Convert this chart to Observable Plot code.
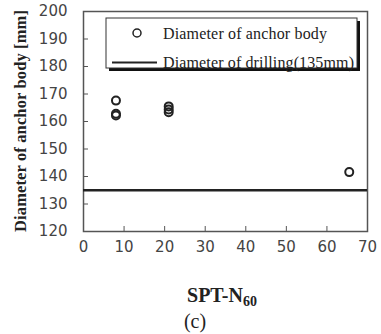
<!DOCTYPE html>
<html>
<head>
<meta charset="utf-8">
<script src="https://cdn.jsdelivr.net/npm/d3@7"></script>
<script src="https://cdn.jsdelivr.net/npm/@observablehq/plot@0.6"></script>
<style>
  html, body { margin: 0; padding: 0; background: #fff; }
</style>
</head>
<body>
<div id="chart"></div>
<script>
// Data
const sptN60 = [8, 8, 8, 21, 21, 21, 65.5];
const anchorDiameter = [167.6, 162.8, 162.2, 165.5, 164.4, 163.4, 141.6];
const drillingDiameter = 135;
const xTicks = [0, 10, 20, 30, 40, 50, 60, 70];
const yTicks = [120, 130, 140, 150, 160, 170, 180, 190, 200];
const legendLabels = ["Diameter of anchor body", "Diameter of drilling(135mm)"];
const yTitle = "Diameter of anchor body [mm]";
const xTitleMain = "SPT-N";
const xTitleSub = "60";
const caption = "(c)";

const points = sptN60.map((x, i) => ({x, y: anchorDiameter[i]}));

const chart = Plot.plot({
  width: 381,
  height: 334,
  marginLeft: 83,
  marginRight: 14,
  marginTop: 11,
  marginBottom: 103,
  style: {background: "#fff", fontFamily: "'DejaVu Sans', sans-serif", fontSize: "14px", color: "#333"},
  x: {domain: [0, 70], ticks: xTicks},
  y: {domain: [120, 200], ticks: yTicks},
  marks: [
    Plot.frame({stroke: "#555", strokeWidth: 1.5}),
    // inward tick marks
    Plot.axisX({ticks: xTicks, tickSize: 5, dy: -5, tickFormat: () => "", label: null, stroke: "#555"}),
    Plot.axisY({ticks: yTicks, tickSize: 5, dx: 5, tickFormat: () => "", label: null, stroke: "#555"}),
    // tick labels
    Plot.axisX({ticks: xTicks, tickSize: 0, tickPadding: 10, label: null, fill: "#444", fontSize: 15}),
    Plot.axisY({ticks: yTicks, tickSize: 0, tickPadding: 16, label: null, fill: "#444", fontSize: 15}),
    Plot.ruleY([drillingDiameter], {stroke: "#222", strokeWidth: 2.5}),
    Plot.dot(points, {x: "x", y: "y", r: 4, stroke: "#222", strokeWidth: 2, fill: "none"})
  ]
});

document.getElementById("chart").appendChild(chart);

// Titles and legend added into the SVG
const svg = d3.select(chart);
const serif = "'Liberation Serif', 'Times New Roman', serif";

svg.append("text")
  .attr("transform", "translate(20,121) rotate(-90)")
  .attr("text-anchor", "middle")
  .attr("dominant-baseline", "central")
  .attr("font-family", serif)
  .attr("font-weight", "bold")
  .attr("font-size", 16.5)
  .attr("fill", "#222")
  .attr("textLength", 222)
  .attr("lengthAdjust", "spacing")
  .text(yTitle);

const xt = svg.append("text")
  .attr("x", 222)
  .attr("y", 302)
  .attr("text-anchor", "middle")
  .attr("font-family", serif)
  .attr("font-weight", "bold")
  .attr("font-size", 20)
  .attr("fill", "#222");
xt.append("tspan").text(xTitleMain);
xt.append("tspan").attr("font-size", 14).attr("dy", 4).text(xTitleSub);

svg.append("text")
  .attr("x", 195)
  .attr("y", 328)
  .attr("text-anchor", "middle")
  .attr("font-family", serif)
  .attr("font-size", 20)
  .attr("fill", "#222")
  .text(caption);

// Legend
const lg = svg.append("g");
lg.append("rect").attr("x", 109).attr("y", 21).attr("width", 251).attr("height", 50)
  .style("fill", "#111").style("stroke", "none");
lg.append("rect").attr("x", 106).attr("y", 18).attr("width", 251).attr("height", 50)
  .style("fill", "#fff").style("stroke", "#333").style("stroke-width", "1px");
lg.append("circle").attr("cx", 137).attr("cy", 33).attr("r", 4)
  .attr("fill", "none").attr("stroke", "#222").attr("stroke-width", 1.5);
lg.append("line").attr("x1", 112).attr("x2", 157).attr("y1", 62.5).attr("y2", 62.5)
  .attr("stroke", "#222").attr("stroke-width", 2);
[[legendLabels[0], 33, 164], [legendLabels[1], 62, 191]].forEach(([t, y, len]) => {
  lg.append("text")
    .attr("x", 163).attr("y", y)
    .attr("text-anchor", "start")
    .attr("dominant-baseline", "central")
    .attr("font-family", serif)
    .attr("font-size", 16)
    .attr("fill", "#222")
    .attr("textLength", len)
    .attr("lengthAdjust", "spacing")
    .text(t);
});
</script>
</body>
</html>
